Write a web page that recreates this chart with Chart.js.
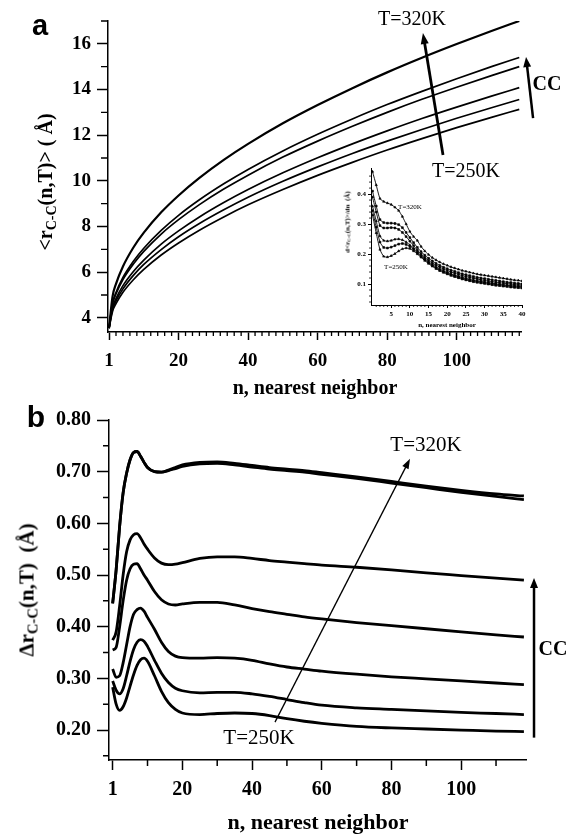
<!DOCTYPE html>
<html>
<head>
<meta charset="utf-8">
<script src="https://cdn.jsdelivr.net/npm/chart.js@4.4.1/dist/chart.umd.min.js"></script>
<style>
html,body{margin:0;padding:0;background:#fff;}
#wrap{position:relative;width:568px;height:835px;overflow:hidden;background:#fff;}
canvas{position:absolute;}
.c{position:absolute;white-space:nowrap;font-family:"Liberation Serif","Times New Roman",serif;color:#000;line-height:1;transform:translate(-50%,-50%);}
.r{transform:translate(-50%,-50%) rotate(-90deg);}
.b{font-weight:bold;}
.sans{font-family:"Liberation Sans",Arial,sans-serif;font-weight:bold;}
sub{font-size:70%;vertical-align:baseline;position:relative;top:0.3em;line-height:0;}
</style>
</head>
<body>
<div id="wrap">
  <canvas id="ca" width="568" height="400" style="left:0;top:0;"></canvas>
  <canvas id="cb" width="568" height="435" style="left:0;top:400px;"></canvas>
  <canvas id="ci" width="200" height="180" style="left:330px;top:160px;"></canvas>

  <div class="c sans" style="left:40px;top:25px;font-size:29px;">a</div>
  <div class="c sans" style="left:36px;top:417px;font-size:30px;">b</div>

  <div class="c b r" style="left:45px;top:182px;font-size:20px;">&lt;r<sub>C-C</sub>(n,T)&gt; ( Å)</div>
  <div class="c b" style="left:315px;top:387px;font-size:20px;">n, nearest neighbor</div>
  <div class="c" style="left:412px;top:18px;font-size:20px;">T=320K</div>
  <div class="c" style="left:466px;top:170px;font-size:20px;">T=250K</div>
  <div class="c b" style="left:547px;top:83px;font-size:20px;">CC</div>

  <div class="c b r" style="left:348px;top:222px;font-size:7px;">d&lt;r<sub>C-C</sub>(n,T)&gt;/dn&nbsp;&nbsp;(Å)</div>
  <div class="c b" style="left:447px;top:325px;font-size:7px;">n, nearest neighbor</div>
  <div class="c" style="left:410px;top:207px;font-size:7px;">T=320K</div>
  <div class="c" style="left:396px;top:267px;font-size:7px;">T=250K</div>

  <div class="c b r" style="left:27px;top:590px;font-size:21px;">Δr<sub>C-C</sub>(n,T)&nbsp;&nbsp;(Å)</div>
  <div class="c b" style="left:318px;top:822px;font-size:22px;">n, nearest neighbor</div>
  <div class="c" style="left:426px;top:444px;font-size:21px;">T=320K</div>
  <div class="c" style="left:259px;top:737px;font-size:21px;">T=250K</div>
  <div class="c b" style="left:553px;top:648px;font-size:20px;">CC</div>
</div>
<script>
// ---------------- panel a : <r_CC(n,T)> ----------------
const nA = [0,1,2,4,7,10,15,20,26,33,40,50,60,70,80,90,100,110,118];
const rA1 = [3.55,4.93,5.49,6.25,7.08,7.73,8.62,9.36,10.13,10.92,11.62,12.52,13.32,14.06,14.75,15.39,15.99,16.56,17.00];
const rA2 = [3.55,4.65,5.11,5.77,6.48,7.05,7.83,8.49,9.17,9.87,10.50,11.31,12.04,12.71,13.34,13.92,14.47,15.00,15.40];
const rA3 = [3.55,4.60,5.05,5.68,6.36,6.91,7.67,8.30,8.96,9.64,10.25,11.04,11.74,12.39,13.00,13.57,14.10,14.61,15.00];
const rA4 = [3.55,4.45,4.84,5.41,6.03,6.53,7.23,7.81,8.42,9.05,9.62,10.35,11.01,11.62,12.19,12.73,13.23,13.71,14.08];
const rA5 = [3.55,4.37,4.74,5.27,5.86,6.34,6.99,7.55,8.13,8.73,9.28,9.98,10.61,11.20,11.74,12.25,12.74,13.20,13.56];
const rA6 = [3.55,4.28,4.62,5.12,5.67,6.12,6.75,7.28,7.84,8.42,8.95,9.62,10.24,10.81,11.35,11.85,12.33,12.78,13.13];
const yTicksA = [4,6,8,10,12,14,16];
const yMinorA = [5,7,9,11,13,15,17];
const xTicksA = [0,20,40,60,80,100];
const xTickLabelsA = ["1","20","40","60","80","100"];

// ---------------- panel a inset : d<r>/dn ----------------
const nI = [0,1,2,3,4,5,6,7,8,9,10,11,12,13,14,15,16,17,18,19,20,21,22,23,24,25,26,27,28,29,30,31,32,33,34,35,36,37,38,39,40];
const dI1 = [0.475,0.43,0.385,0.375,0.37,0.365,0.356,0.345,0.325,0.30,0.275,0.258,0.245,0.225,0.21,0.198,0.188,0.18,0.173,0.167,0.162,0.157,0.153,0.149,0.145,0.142,0.139,0.136,0.133,0.131,0.129,0.127,0.125,0.123,0.121,0.119,0.117,0.115,0.113,0.112,0.11];
const dI2 = [0.41,0.36,0.315,0.305,0.303,0.303,0.302,0.298,0.288,0.272,0.255,0.238,0.222,0.208,0.196,0.186,0.177,0.169,0.162,0.156,0.151,0.146,0.142,0.138,0.134,0.131,0.128,0.125,0.122,0.12,0.118,0.116,0.114,0.112,0.11,0.108,0.106,0.105,0.103,0.102,0.10];
const dI3 = [0.39,0.34,0.295,0.287,0.287,0.288,0.287,0.282,0.272,0.258,0.243,0.228,0.213,0.20,0.189,0.179,0.17,0.163,0.156,0.15,0.145,0.14,0.136,0.132,0.128,0.125,0.122,0.119,0.117,0.114,0.112,0.11,0.108,0.106,0.104,0.103,0.101,0.10,0.098,0.097,0.096];
const dI4 = [0.36,0.31,0.26,0.245,0.243,0.245,0.249,0.25,0.247,0.24,0.23,0.219,0.207,0.195,0.184,0.174,0.165,0.157,0.15,0.144,0.139,0.134,0.13,0.126,0.122,0.119,0.116,0.113,0.111,0.109,0.107,0.105,0.103,0.101,0.099,0.098,0.096,0.095,0.094,0.093,0.092];
const dI5 = [0.345,0.29,0.24,0.222,0.22,0.223,0.228,0.233,0.235,0.232,0.225,0.215,0.204,0.192,0.181,0.171,0.162,0.154,0.147,0.141,0.136,0.131,0.127,0.123,0.119,0.116,0.113,0.11,0.108,0.106,0.104,0.102,0.10,0.098,0.097,0.095,0.094,0.092,0.091,0.09,0.089];
const dI6 = [0.33,0.27,0.215,0.192,0.19,0.194,0.201,0.21,0.217,0.22,0.218,0.21,0.20,0.189,0.178,0.168,0.159,0.151,0.144,0.138,0.133,0.128,0.124,0.12,0.116,0.113,0.11,0.107,0.105,0.103,0.101,0.099,0.097,0.095,0.094,0.092,0.091,0.089,0.088,0.087,0.086];
const yTicksI = [0.1,0.2,0.3,0.4];
const xTicksI = [5,10,15,20,25,30,35,40];

// ---------------- panel b : Delta r_CC(n,T) ----------------
const nB = [0,1,2,3,4,5,6,7,8,9,10,12,14,16,18,20,25,30,35,40,45,50,55,60,70,80,90,100,110,118];
const dB1 = [0.445,0.51,0.594,0.659,0.697,0.723,0.737,0.739,0.73,0.718,0.708,0.70,0.699,0.703,0.708,0.713,0.718,0.719,0.716,0.712,0.708,0.705,0.702,0.698,0.690,0.681,0.672,0.664,0.657,0.653];
const dB1b = [0.445,0.51,0.594,0.659,0.697,0.723,0.737,0.739,0.73,0.718,0.708,0.70,0.699,0.702,0.706,0.710,0.715,0.716,0.713,0.709,0.705,0.702,0.699,0.695,0.687,0.678,0.669,0.660,0.652,0.646];
const dB2 = [0.374,0.39,0.44,0.50,0.545,0.568,0.578,0.58,0.572,0.56,0.55,0.533,0.523,0.52,0.521,0.524,0.532,0.535,0.535,0.532,0.528,0.525,0.522,0.519,0.515,0.51,0.504,0.499,0.494,0.49];
const dB3 = [0.355,0.36,0.40,0.45,0.49,0.512,0.521,0.522,0.512,0.50,0.49,0.468,0.452,0.444,0.442,0.444,0.447,0.447,0.442,0.435,0.429,0.424,0.419,0.415,0.408,0.402,0.396,0.39,0.384,0.38];
const dB4 = [0.318,0.302,0.305,0.33,0.365,0.40,0.424,0.433,0.436,0.43,0.418,0.395,0.37,0.352,0.343,0.34,0.339,0.34,0.339,0.335,0.328,0.322,0.318,0.314,0.308,0.303,0.299,0.295,0.291,0.288];
const dB5 = [0.295,0.277,0.27,0.28,0.305,0.333,0.356,0.37,0.375,0.372,0.362,0.335,0.31,0.292,0.281,0.276,0.272,0.273,0.273,0.27,0.265,0.259,0.253,0.248,0.243,0.240,0.237,0.234,0.232,0.23];
const dB6 = [0.283,0.25,0.238,0.245,0.262,0.285,0.307,0.325,0.336,0.339,0.333,0.305,0.275,0.253,0.24,0.233,0.23,0.232,0.233,0.232,0.228,0.222,0.217,0.213,0.207,0.204,0.202,0.20,0.198,0.197];
const yTicksB = [0.2,0.3,0.4,0.5,0.6,0.7,0.8];
const yMinorB = [0.15,0.25,0.35,0.45,0.55,0.65,0.75];
const xTicksB = [0,20,40,60,80,100];
const xTickLabelsB = ["1","20","40","60","80","100"];
const xMinorB = [10,30,50,70,90,110];

// ---------------- helpers ----------------
function pts(xs, ys){ return xs.map((x,i)=>({x:x, y:ys[i]})); }
function setTicks(vals){ return function(s){ s.ticks = vals.map(v=>({value:v})); }; }
function fixW(w){ return function(s){ s.width = w; s.paddingTop=0; s.paddingBottom=0; s.paddingLeft=0; s.paddingRight=0; }; }
function fixH(h){ return function(s){ s.height = h; s.paddingTop=0; s.paddingBottom=0; s.paddingLeft=0; s.paddingRight=0; }; }

const minorTicks = {
  id:'minorTicks',
  afterDraw(chart, args, o){
    const xs = chart.scales.x, ys = chart.scales.y, ctx = chart.ctx;
    ctx.save(); ctx.strokeStyle='#000'; ctx.lineWidth = o.width || 1;
    ctx.beginPath();
    (o.x||[]).forEach(v=>{ const p = xs.getPixelForValue(v); ctx.moveTo(p, xs.top); ctx.lineTo(p, xs.top + o.xLen); });
    (o.y||[]).forEach(v=>{ const p = ys.getPixelForValue(v); ctx.moveTo(ys.right, p); ctx.lineTo(ys.right - o.yLen, p); });
    ctx.stroke(); ctx.restore();
  }
};
const arrows = {
  id:'arrows',
  afterDraw(chart, args, o){
    const xs = chart.scales.x, ys = chart.scales.y, ctx = chart.ctx;
    (o.list||[]).forEach(a=>{
      const x1 = xs.getPixelForValue(a.from[0]), y1 = ys.getPixelForValue(a.from[1]);
      const x2 = xs.getPixelForValue(a.to[0]), y2 = ys.getPixelForValue(a.to[1]);
      const ang = Math.atan2(y2-y1, x2-x1), c = Math.cos(ang), s = Math.sin(ang);
      const bx = x2 - a.hl*c, by = y2 - a.hl*s;
      ctx.save(); ctx.strokeStyle='#000'; ctx.fillStyle='#000'; ctx.lineWidth=a.w; ctx.lineCap='butt';
      ctx.beginPath(); ctx.moveTo(x1,y1); ctx.lineTo(bx + 2*c, by + 2*s); ctx.stroke();
      ctx.beginPath(); ctx.moveTo(x2,y2); ctx.lineTo(bx + a.hw*s, by - a.hw*c); ctx.lineTo(bx - a.hw*s, by + a.hw*c); ctx.closePath(); ctx.fill();
      ctx.restore();
    });
  }
};

function lineDs(xs, ys, w){
  return {data: pts(xs, ys), borderColor:'#000', backgroundColor:'#000', borderWidth:w, pointRadius:0, cubicInterpolationMode:'monotone', fill:false};
}
const tickFont = (s)=>({family:'"Liberation Serif","Times New Roman",serif', size:s, weight:'bold'});

// ---------------- chart a ----------------
const xMinorA = [];
for (let v = 2; v <= 118; v += 2) { if (v % 20 !== 0) xMinorA.push(v); }

new Chart(document.getElementById('ca'), {
  type:'line',
  data:{ datasets:[ lineDs(nA,rA1,2.2), lineDs(nA,rA2,1.7), lineDs(nA,rA3,1.7), lineDs(nA,rA4,1.7), lineDs(nA,rA5,1.7), lineDs(nA,rA6,1.7) ] },
  options:{
    responsive:false, animation:false, events:[],
    layout:{padding:{left:0,top:21,right:47,bottom:0}},
    plugins:{legend:{display:false}, tooltip:{enabled:false},
      minorTicks:{x:xMinorA, y:yMinorA, xLen:4, yLen:7, width:1.3},
      arrows:{list:[
        {from:[96.07,11.13], to:[90.3,16.47], w:2.8, hl:11, hw:4},
        {from:[121.97,12.75], to:[119.95,15.42], w:2.5, hl:10, hw:4}
      ]}
    },
    scales:{
      x:{type:'linear', min:-0.3, max:118.5,
        afterBuildTicks:setTicks(xTicksA), afterFit:fixH(68),
        grid:{drawOnChartArea:false, drawTicks:true, tickLength:8, tickWidth:1.5, tickColor:'#000'},
        border:{display:true, color:'#000', width:1.5},
        ticks:{color:'#000', font:tickFont(19), padding:10, maxRotation:0, autoSkip:false,
          callback:(v)=>{ const i = xTicksA.indexOf(v); return i>=0 ? xTickLabelsA[i] : ''; }}
      },
      y:{type:'linear', min:3.38, max:17.0,
        afterBuildTicks:setTicks(yTicksA), afterFit:fixW(108),
        grid:{drawOnChartArea:false, drawTicks:true, tickLength:11, tickWidth:1.5, tickColor:'#000'},
        border:{display:true, color:'#000', width:1.5},
        ticks:{color:'#000', font:tickFont(19), padding:6, callback:(v)=>String(v)}
      }
    }
  },
  plugins:[minorTicks, arrows]
});

// ---------------- inset ----------------
const xMinorI = [];
for (let v = 1; v <= 40; v += 1) { if (v % 5 !== 0) xMinorI.push(v); }
const yMinorI = [];
for (let v = 0.04; v <= 0.48; v += 0.02) { const r = Math.round(v*100)/100; if (Math.round(r*100) % 10 !== 0) yMinorI.push(r); }
const styles = ['triangle','rect','rect','triangle','rect','triangle'];
function insetDs(ys, k){
  return {data: pts(nI, ys), borderColor:'#000', backgroundColor:'#000', borderWidth:0.9, pointRadius:1.3, pointStyle:styles[k], pointBorderWidth:0.6, tension:0.2, fill:false};
}
new Chart(document.getElementById('ci'), {
  type:'line',
  data:{ datasets:[ insetDs(dI1,0), insetDs(dI2,1), insetDs(dI3,2), insetDs(dI4,3), insetDs(dI5,4), insetDs(dI6,5) ] },
  options:{
    responsive:false, animation:false, events:[],
    layout:{padding:{left:0,top:8,right:8,bottom:0}},
    plugins:{legend:{display:false}, tooltip:{enabled:false},
      minorTicks:{x:xMinorI, y:yMinorI, xLen:2, yLen:2, width:0.8}},
    scales:{
      x:{type:'linear', min:-0.4, max:40,
        afterBuildTicks:setTicks(xTicksI), afterFit:fixH(35),
        grid:{drawOnChartArea:false, drawTicks:true, tickLength:3, tickWidth:1, tickColor:'#000'},
        border:{display:true, color:'#000', width:1},
        ticks:{color:'#000', font:tickFont(7), padding:2, maxRotation:0, autoSkip:false, callback:(v)=>String(v)}
      },
      y:{type:'linear', min:0.03, max:0.487,
        afterBuildTicks:setTicks(yTicksI), afterFit:fixW(41),
        grid:{drawOnChartArea:false, drawTicks:true, tickLength:3, tickWidth:1, tickColor:'#000'},
        border:{display:true, color:'#000', width:1},
        ticks:{color:'#000', font:tickFont(7), padding:2, callback:(v)=>v.toFixed(1)}
      }
    }
  },
  plugins:[minorTicks]
});

// ---------------- chart b ----------------
new Chart(document.getElementById('cb'), {
  type:'line',
  data:{ datasets:[ lineDs(nB,dB1,2.8), lineDs(nB,dB1b,2.8), lineDs(nB,dB2,2.8), lineDs(nB,dB3,2.8), lineDs(nB,dB4,2.8), lineDs(nB,dB5,2.8), lineDs(nB,dB6,2.8) ] },
  options:{
    responsive:false, animation:false, events:[],
    layout:{padding:{left:0,top:20,right:42,bottom:0}},
    plugins:{legend:{display:false}, tooltip:{enabled:false},
      minorTicks:{x:xMinorB, y:yMinorB, xLen:6, yLen:6, width:1.5},
      arrows:{list:[
        {from:[46.58,0.2153], to:[85.32,0.725], w:1.3, hl:10, hw:3.5},
        {from:[120.9,0.1853], to:[120.9,0.4944], w:2.5, hl:10, hw:4}
      ]}
    },
    scales:{
      x:{type:'linear', min:-1.05, max:118.6,
        afterBuildTicks:setTicks(xTicksB), afterFit:fixH(75),
        grid:{drawOnChartArea:false, drawTicks:true, tickLength:10, tickWidth:1.5, tickColor:'#000'},
        border:{display:true, color:'#000', width:1.5},
        ticks:{color:'#000', font:tickFont(20), padding:8, maxRotation:0, autoSkip:false,
          callback:(v)=>{ const i = xTicksB.indexOf(v); return i>=0 ? xTickLabelsB[i] : ''; }}
      },
      y:{type:'linear', min:0.142, max:0.80,
        afterBuildTicks:setTicks(yTicksB), afterFit:fixW(109),
        grid:{drawOnChartArea:false, drawTicks:true, tickLength:12, tickWidth:1.5, tickColor:'#000'},
        border:{display:true, color:'#000', width:1.5},
        ticks:{color:'#000', font:tickFont(20), padding:6, callback:(v)=>v.toFixed(2)}
      }
    }
  },
  plugins:[minorTicks, arrows]
});
</script>
</body>
</html>
